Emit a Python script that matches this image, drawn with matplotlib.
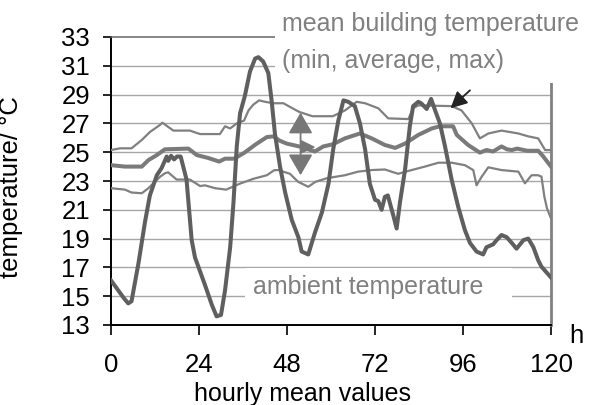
import matplotlib
matplotlib.use("Agg")
import matplotlib.pyplot as plt
from matplotlib.patches import Rectangle, FancyArrowPatch, Polygon

plt.rcParams['font.family'] = ['Liberation Sans', 'DejaVu Sans']

# ambient temperature (hour, °C)
amb_h = [0, 3.4, 4.7, 5.6, 7.5, 9.3, 10.6, 12.5, 13.8, 15.2, 15.6, 16.4, 17.2, 18.0, 19.0,
         20.6, 22.0, 22.9, 25.6, 27.5, 28.8, 30.0, 31.1, 32.5, 33.4, 34.3, 35.2, 36.5, 37.9,
         39.3, 40.2, 41.5, 42.9, 43.8, 44.7, 46.1, 47.5, 49.3, 51.1, 52.0, 53.8, 55.6, 57.5,
         59.3, 60.6, 62.0, 63.4, 64.7, 66.5, 67.9, 69.3, 70.6, 72.0, 72.9, 73.8, 74.7, 75.5,
         77.0, 77.9, 78.8, 80.2, 81.5, 82.4, 83.8, 84.6, 86.1, 87.3, 88.4, 89.7, 91.1, 92.9,
         94.7, 96.5, 97.9, 99.7, 101.5, 102.4, 104.2, 105.2, 106.5, 107.9, 109.3, 110.6, 112.5,
         113.8, 115.2, 116.5, 117.4, 120]
amb_t = [16.1, 14.9, 14.5, 14.65, 17.3, 20.2, 22.0, 23.4, 23.9, 24.7, 24.4, 24.75, 24.5, 24.7, 24.7,
         23.1, 18.9, 17.7, 15.8, 14.4, 13.6, 13.7, 15.4, 18.4, 21.5, 25.4, 27.7, 28.9, 30.6,
         31.5, 31.6, 31.3, 30.5, 28.6, 26.3, 24.0, 22.2, 20.3, 19.1, 18.1, 17.9, 19.4, 20.8,
         22.8, 25.2, 27.2, 28.6, 28.5, 28.2, 27.0, 25.2, 22.8, 21.7, 21.6, 21.0, 21.9, 22.0,
         20.6, 19.7, 21.5, 23.8, 26.8, 28.2, 28.5, 28.4, 28.0, 28.7, 27.9, 27.0, 25.4, 23.1,
         21.2, 19.6, 18.7, 18.1, 17.9, 18.4, 18.6, 18.9, 19.25, 19.1, 18.7, 18.3, 18.9,
         19.0, 18.4, 17.5, 17.05, 16.3]

# mean building temperature: average
avg_h = [0, 3.8, 8.4, 10.2, 12.5, 14.7, 21.1, 23.4, 26.5, 29.5, 31.1, 33.6, 36.3, 39.5, 42.5,
         44.3, 46.0, 47.9, 51.3, 55.6, 57.9, 60.5, 63.8, 67.9, 71.1, 74.7, 77.5, 80.2, 83.8,
         87.5, 89.7, 93.3, 94.3, 97.4, 100.6, 102.4, 104.2, 106.5, 108.0, 109.3, 110.8, 113.5,
         116.5, 117.9, 120]
avg_t = [24.1, 24.0, 24.0, 24.45, 24.8, 25.2, 25.25, 24.8, 24.6, 24.35, 24.55, 24.55, 24.95, 25.55, 26.05,
         26.1, 25.8, 25.6, 25.4, 25.05, 25.4, 25.55, 25.96, 26.3, 25.96, 25.5, 25.3, 25.6, 26.2,
         26.65, 26.8, 26.8, 26.2, 25.5, 24.97, 25.15, 25.05, 25.4, 25.2, 25.15, 25.25, 25.1,
         25.1, 24.7, 24.0]

# mean building temperature: maximum
max_h = [0, 2.5, 5.6, 8.4, 10.6, 13.4, 14.0, 17.0, 21.5, 24.3, 29.7, 31.1, 32.5, 34.3, 36.3,
         37.5, 38.8, 40.4, 42.0, 44.3, 47.0, 51.3, 54.9, 60.5, 63.8, 67.0, 69.3, 72.9, 75.6,
         81.1, 82.4, 83.8, 92.9, 95.6, 98.4, 100.6, 102.9, 106.5, 111.1, 113.8, 116.5, 118.4, 120]
max_t = [25.15, 25.27, 25.27, 25.85, 26.4, 26.9, 27.05, 26.5, 26.5, 26.26, 26.26, 26.8, 26.65, 27.0, 27.2,
         27.9, 28.3, 28.6, 28.5, 28.4, 28.4, 27.8, 27.5, 27.5, 27.9, 28.5, 28.4, 28.05, 27.35,
         27.3, 28.05, 28.25, 28.2, 27.9, 27.0, 25.96, 26.3, 26.5, 26.3, 26.1, 25.96, 25.15, 25.15]

# mean building temperature: minimum
min_h = [0, 3.8, 5.6, 8.4, 10.2, 13.4, 14.8, 15.6, 17.9, 21.5, 24.3, 25.6, 28.4, 31.4, 35.0,
         38.8, 42.5, 44.5, 45.6, 48.8, 51.0, 53.8, 55.8, 59.0, 63.8, 67.4, 71.1, 74.7, 78.3,
         82.0, 85.6, 89.3, 92.9, 96.5, 98.8, 99.7, 101.1, 102.9, 106.5, 111.1, 112.9, 114.7,
         116.5, 117.4, 118.2, 118.9, 120]
min_t = [22.5, 22.4, 22.2, 22.15, 22.5, 23.3, 23.55, 23.6, 23.1, 23.1, 22.65, 22.7, 22.5, 22.4, 22.8,
         23.15, 23.4, 23.75, 23.76, 23.5, 22.95, 22.6, 22.95, 23.2, 23.4, 23.65, 23.76, 23.8, 23.5,
         23.76, 24.0, 24.27, 24.27, 24.1, 23.76, 22.7, 23.3, 23.95, 23.76, 23.65, 22.84, 23.4,
         23.4, 23.3, 21.9, 21.1, 20.4]

x_ticks = [0, 24, 48, 72, 96, 120]
y_ticks = [13, 15, 17, 19, 21, 23, 25, 27, 29, 31, 33]

W, H = 590, 405
fig = plt.figure(figsize=(W / 100, H / 100), dpi=100)
ax = fig.add_axes([111 / W, 1 - 325 / H, 440 / W, 288 / H])

ax.set_xlim(0, 120)
ax.set_ylim(13, 33)

grey_grid = '#a6a6a6'
for t in y_ticks[1:-1]:
    ax.axhline(t, color=grey_grid, lw=1.0, zorder=1)

ax.plot(min_h, min_t, color='#808080', lw=1.6, zorder=3)
ax.plot(max_h, max_t, color='#808080', lw=1.6, zorder=3)
ax.plot(avg_h, avg_t, color='#7a7a7a', lw=2.9, zorder=4)
ax.plot(amb_h, amb_t, color='#5f5f5f', lw=2.9, zorder=5)

ax.set_xticks(x_ticks)
ax.set_yticks(y_ticks)
ax.tick_params(axis='y', direction='out', length=6, width=1.2, pad=9, labelsize=18.5, colors='black')
ax.tick_params(axis='x', direction='out', length=7, width=1.2, pad=13, labelsize=18.5, colors='black')

for s in ('left', 'bottom'):
    ax.spines[s].set_color('black')
    ax.spines[s].set_linewidth(1.4)
ax.spines['top'].set_color('#666666')
ax.spines['top'].set_linewidth(1.1)
ax.spines['right'].set_color('#808080')
ax.spines['right'].set_linewidth(2.0)

ax.set_ylabel('temperature/ °C', fontsize=18.5)
ax.yaxis.set_label_coords(-0.2, 0.48)

# range arrow between max and min, with pointer to the average
rng = FancyArrowPatch((51.7, 27.75), (51.7, 23.4), arrowstyle='<|-|>,head_length=13,head_width=7.5',
                      mutation_scale=1, shrinkA=0, shrinkB=0, color='#777777', lw=1.3, zorder=6)
ax.add_patch(rng)
ax.add_patch(Polygon([(51.8, 25.8), (51.8, 24.95), (55.4, 25.35)], closed=True,
                     color='#777777', zorder=6))

# pointer to the capped maximum
ax.add_patch(FancyArrowPatch((97.9, 29.3), (92.6, 28.05), arrowstyle='-|>,head_length=10,head_width=5',
                             mutation_scale=1, shrinkA=0, shrinkB=0, color='#222222', lw=1.3, zorder=6))

# white label backgrounds
fig.patches.append(Rectangle((275 / W, 1 - 83 / H), (W - 275) / W, 83 / H,
                             transform=fig.transFigure, facecolor='white', edgecolor='none', zorder=10))
fig.patches.append(Rectangle((245 / W, 1 - 305 / H), (512 - 245) / W, 37 / H,
                             transform=fig.transFigure, facecolor='white', edgecolor='none', zorder=10))

lab = '#808080'
fig.text(282 / W, 1 - 24 / H, 'mean building temperature', fontsize=18, color=lab,
         ha='left', va='center', zorder=11)
fig.text(282 / W, 1 - 61 / H, '(min, average, max)', fontsize=18, color=lab,
         ha='left', va='center', zorder=11)
fig.text(253 / W, 1 - 287 / H, 'ambient temperature', fontsize=18, color=lab,
         ha='left', va='center', zorder=11)

fig.text(303 / W, 1 - 394 / H, 'hourly mean values', fontsize=18, ha='center', va='center')
fig.text(576 / W, 1 - 336 / H, 'h', fontsize=18.5, ha='center', va='center')

fig.savefig('out.png', dpi=100, facecolor='white')
